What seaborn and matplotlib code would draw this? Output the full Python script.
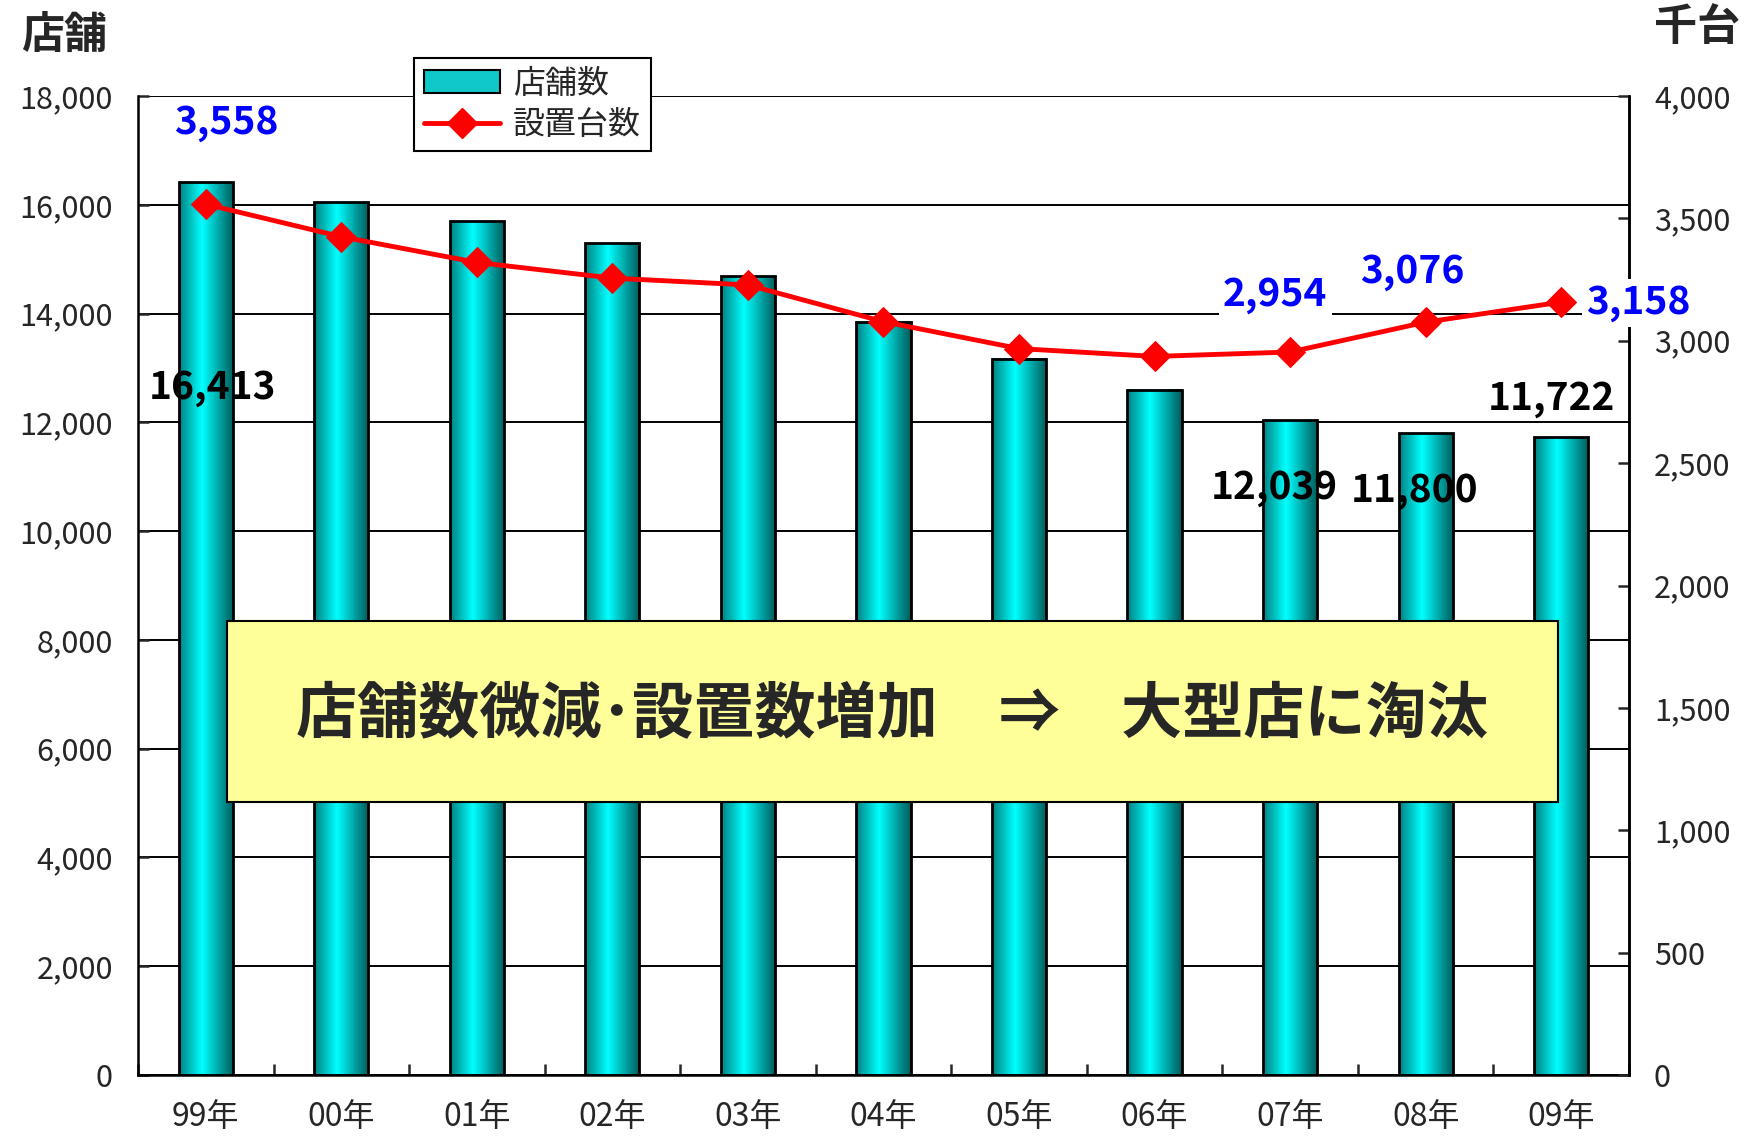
import numpy as np
import matplotlib
matplotlib.use("Agg")
import matplotlib.pyplot as plt
import seaborn as sns
from matplotlib.colors import LinearSegmentedColormap
from matplotlib.patches import Patch, Rectangle
from matplotlib.lines import Line2D
from matplotlib.ticker import FuncFormatter, MultipleLocator

years = ['99年', '00年', '01年', '02年', '03年', '04年', '05年', '06年', '07年', '08年', '09年']
stores = [16413, 16050, 15700, 15290, 14690, 13850, 13170, 12600, 12039, 11800, 11722]
units = [3558, 3425, 3320, 3256, 3228, 3078, 2968, 2936, 2954, 3076, 3158]

# labelled points: (index, text position x, text position y)
store_labels = [(0, 0.05, 12636), (8, 7.88, 10808), (9, 8.92, 10746), (10, 9.93, 12431)]
unit_labels = [(0, 0.15, 3890), (8, 7.89, 3187), (9, 8.90, 3283), (10, 10.57, 3155)]

sns.set_style("white")
plt.rcParams['font.family'] = ['Noto Sans CJK JP', 'DejaVu Sans']

fig = plt.figure(figsize=(17.51, 11.39), dpi=100)
ax = fig.add_axes([0.0788, 0.0562, 0.8515, 0.8595])

sns.barplot(x=years, y=stores, ax=ax, width=0.4, color='#00CCCC',
            edgecolor='black', linewidth=2, saturation=1)

# cylinder-like gradient on each bar
cmap = LinearSegmentedColormap.from_list(
    'cyl', [(0, '#008080'), (0.42, '#00FFFF'), (1, '#005A5A')])
grad = np.linspace(0, 1, 256).reshape(1, -1)
for p in ax.patches:
    x0, w, h = p.get_x(), p.get_width(), p.get_height()
    ax.imshow(grad, cmap=cmap, aspect='auto', extent=[x0, x0 + w, 0, h],
              zorder=1.5, interpolation='bicubic')
    p.set_facecolor('none')
    p.set_zorder(1.6)

ax.set_xlim(-0.5, len(years) - 0.5)
ax.set_ylim(0, 18000)
ax.yaxis.set_major_locator(MultipleLocator(2000))
ax.yaxis.set_major_formatter(FuncFormatter(lambda v, _: f'{int(v):,}'))
ax.set_axisbelow(True)
ax.grid(axis='y', color='black', linewidth=1.4)
ax.grid(axis='x', visible=False)
ax.get_ygridlines()[-1].set_color('#BBBBBB')
ax.spines['top'].set_visible(False)
for s in ['left', 'bottom', 'right']:
    ax.spines[s].set_color('black')
    ax.spines[s].set_linewidth(1.8)
ax.tick_params(axis='y', direction='in', length=8, width=1.8, pad=18,
               labelsize=22, left=True)
ax.xaxis.set_minor_locator(MultipleLocator(1, offset=0.5))
ax.tick_params(axis='x', which='major', length=0, pad=19, labelsize=23)
ax.tick_params(axis='x', which='minor', direction='in', length=8, width=1.8, bottom=True)
ax.set_xlabel('')
ax.set_ylabel('')

for i, tx, ty in store_labels:
    ax.text(tx, ty, f'{stores[i]:,}', ha='center', va='center',
            fontsize=28, fontweight='bold', color='black', zorder=4)

ax2 = ax.twinx()
sns.lineplot(x=np.arange(len(years)), y=units, ax=ax2, color='red', marker='D',
             markersize=15, markeredgecolor='red', linewidth=3.5, zorder=3)
ax2.set_ylim(0, 4000)
ax2.yaxis.set_major_locator(MultipleLocator(500))
ax2.yaxis.set_major_formatter(FuncFormatter(lambda v, _: f'{int(v):,}'))
ax2.tick_params(axis='y', direction='in', length=8, width=1.8, pad=18,
                labelsize=22, right=True)
ax2.set_ylabel('')
for s in ['top', 'left', 'bottom']:
    ax2.spines[s].set_visible(False)
ax2.spines['right'].set_linewidth(1.8)
ax2.spines['right'].set_color('black')

for i, tx, ty in unit_labels:
    ax2.text(tx, ty, f'{units[i]:,}', ha='center', va='center',
             fontsize=28, fontweight='bold', color='#0000FF', zorder=6,
             bbox=dict(facecolor='white', edgecolor='none', pad=3))

# message box
ax2.add_patch(Rectangle((0.0597, 0.2789), 0.8927, 0.1848, transform=ax2.transAxes,
                        facecolor='#FFFF99', edgecolor='black', linewidth=1.5,
                        zorder=7, clip_on=False))
ax2.text(0.506, 0.368, '店舗数微減･設置数増加　⇒　大型店に淘汰', transform=ax2.transAxes,
         ha='center', va='center', fontsize=44, fontweight='bold', zorder=8)

handles = [Patch(facecolor='#10C8C8', edgecolor='black', linewidth=1.5),
           Line2D([0], [0], color='red', linewidth=3.5, marker='D', markersize=15)]
leg = ax2.legend(handles, ['店舗数', '設置台数'], loc='upper left',
                 bbox_to_anchor=(0.2364, 0.949), bbox_transform=fig.transFigure,
                 borderaxespad=0, fontsize=23, frameon=True, fancybox=False,
                 framealpha=1, edgecolor='black', borderpad=0.3, labelspacing=0.3,
                 handlelength=2.4, handletextpad=0.4)
leg.get_frame().set_linewidth(1.5)
leg.set_zorder(9)

fig.text(0.0366, 0.969, '店舗', ha='center', va='center', fontsize=31, fontweight='bold')
fig.text(0.969, 0.976, '千台', ha='center', va='center', fontsize=31, fontweight='bold')

fig.savefig('out.png', dpi=100)
